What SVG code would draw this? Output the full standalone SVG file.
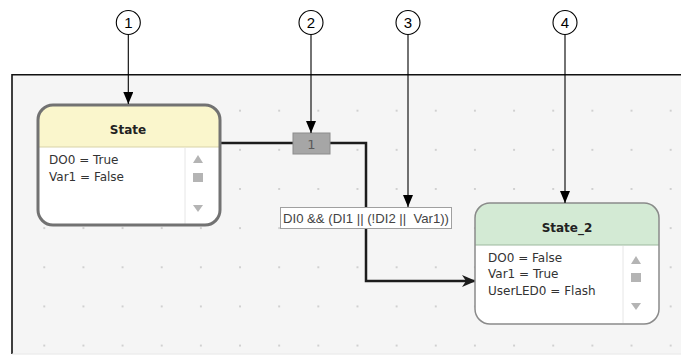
<svg xmlns="http://www.w3.org/2000/svg" width="681" height="358" viewBox="0 0 681 358">
<style>
.call{fill:#fff;stroke:#000;stroke-width:1.1}
.calln{font-family:"Liberation Sans",Arial,sans-serif;font-size:15px;fill:#000;text-anchor:middle}
.cline{stroke:#000;stroke-width:1.1;fill:none}
.title{font-family:"DejaVu Sans",Verdana,sans-serif;font-size:12px;font-weight:bold;fill:#222;text-anchor:middle}
.body{font-family:"DejaVu Sans",Verdana,sans-serif;font-size:12px;fill:#333}
.sb{fill:#b4b4b4}
.conn{stroke:#1c1c1c;stroke-width:2.5;fill:none}
</style>
<defs>
<pattern id="dots" patternUnits="userSpaceOnUse" x="24.7" y="91.1" width="39.15" height="39.15">
<circle cx="19.57" cy="19.57" r="1" fill="#c4c4c4"/>
</pattern>
<marker id="cArrow" viewBox="0 0 12 10" refX="12" refY="5" markerWidth="12" markerHeight="10" markerUnits="userSpaceOnUse" orient="auto">
<path d="M0,0 L12,5 L0,10 Z" fill="#000"/>
</marker>
<marker id="tArrow" viewBox="0 0 14 12" refX="13" refY="6" markerWidth="14" markerHeight="12" markerUnits="userSpaceOnUse" orient="auto">
<path d="M0,0 L14,6 L0,12 L4,6 Z" fill="#1c1c1c"/>
</marker>
</defs>
<rect x="0" y="0" width="681" height="358" fill="#fff"/>
<g id="canvas">
<rect x="12" y="74.7" width="680" height="279" fill="#f5f5f5" stroke="none"/>
<rect x="12" y="74.7" width="680" height="279" fill="url(#dots)"/>
<path d="M12,354 V74.7 H681" fill="none" stroke="#111" stroke-width="1.6"/>
<path d="M12,354 H681" fill="none" stroke="#e6e6e6" stroke-width="1"/>
</g>
<g id="connectors">
<path class="conn" d="M218,143 H366 V281 H475" marker-end="url(#tArrow)"/>
</g>
<g id="transition-1">
<rect x="293" y="133" width="37" height="21" fill="#a6a6a6" stroke="#8c8c8c" stroke-width="1"/>
<text x="311.5" y="148.5" font-family="DejaVu Sans,Verdana,sans-serif" font-size="13" fill="#5a5a5a" text-anchor="middle">1</text>
</g>
<g id="condition">
<rect x="280.5" y="207.5" width="171" height="21" fill="#fff" stroke="#a0a0a0" stroke-width="1"/>
<text x="283" y="223" font-family="Liberation Sans,Arial,sans-serif" font-size="13" fill="#444" xml:space="preserve" textLength="166" lengthAdjust="spacingAndGlyphs">DI0 &amp;&amp; (DI1 || (!DI2 ||  Var1))</text>
</g>
<g id="state">
<path d="M38,147 V120 Q38,105 53,105 H205 Q220,105 220,120 V147 Z" fill="#faf6cc"/>
<path d="M38,147 H220 V210 Q220,225 205,225 H53 Q38,225 38,210 Z" fill="#fff"/>
<line x1="38" y1="147" x2="220" y2="147" stroke="#d8d3a8" stroke-width="1"/>
<line x1="185" y1="148" x2="185" y2="224" stroke="#e6e6e6" stroke-width="1"/>
<rect x="38" y="105" width="182" height="120" rx="15" ry="15" fill="none" stroke="#727272" stroke-width="3"/>
<text class="title" x="128" y="134">State</text>
<text class="body" x="49" y="164">DO0 = True</text>
<text class="body" x="49" y="181">Var1 = False</text>
<path class="sb" d="M193,163 L203,163 L198,155 Z"/>
<rect class="sb" x="193" y="173" width="10" height="9"/>
<path class="sb" d="M193,205 L203,205 L198,212 Z"/>
</g>
<g id="state_2">
<path d="M475,245 V218 Q475,203 490,203 H644 Q659,203 659,218 V245 Z" fill="#d3ead4"/>
<path d="M475,245 H659 V309 Q659,324 644,324 H490 Q475,324 475,309 Z" fill="#fff"/>
<line x1="475" y1="245" x2="659" y2="245" stroke="#9cb89e" stroke-width="1"/>
<line x1="623" y1="246" x2="623" y2="323" stroke="#e6e6e6" stroke-width="1"/>
<rect x="475" y="203" width="184" height="121" rx="15" ry="15" fill="none" stroke="#8a8a8a" stroke-width="1.5"/>
<text class="title" x="567" y="232">State_2</text>
<text class="body" x="488" y="262">DO0 = False</text>
<text class="body" x="488" y="278">Var1 = True</text>
<text class="body" x="488" y="295">UserLED0 = Flash</text>
<path class="sb" d="M631,264 L641,264 L636,256 Z"/>
<rect class="sb" x="631" y="273" width="10" height="9"/>
<path class="sb" d="M631,303 L641,303 L636,310 Z"/>
</g>
<g id="callout-1">
<line class="cline" x1="128.3" y1="34.5" x2="128.3" y2="104" marker-end="url(#cArrow)"/>
<circle class="call" cx="128.3" cy="22.5" r="12"/>
<text class="calln" x="128.3" y="28">1</text>
</g>
<g id="callout-2">
<line class="cline" x1="311" y1="34.5" x2="311" y2="133" marker-end="url(#cArrow)"/>
<circle class="call" cx="311" cy="22.5" r="12"/>
<text class="calln" x="311" y="28">2</text>
</g>
<g id="callout-3">
<line class="cline" x1="408" y1="34.5" x2="408" y2="207" marker-end="url(#cArrow)"/>
<circle class="call" cx="408" cy="22.5" r="12"/>
<text class="calln" x="408" y="28">3</text>
</g>
<g id="callout-4">
<line class="cline" x1="565" y1="34.5" x2="565" y2="203" marker-end="url(#cArrow)"/>
<circle class="call" cx="565" cy="22.5" r="12"/>
<text class="calln" x="565" y="28">4</text>
</g>
</svg>
